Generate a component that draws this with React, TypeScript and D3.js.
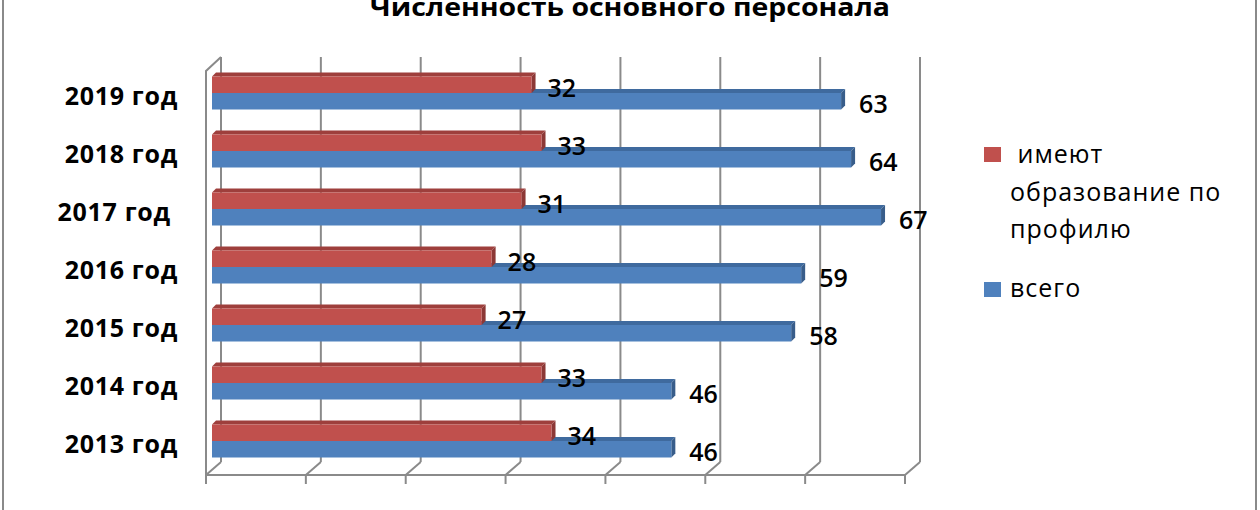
import * as d3 from "d3";

const categories = ["2013 год", "2014 год", "2015 год", "2016 год", "2017 год ", "2018 год", "2019 год"];
const profileValues = [34, 33, 27, 28, 31, 33, 32];
const totalValues = [46, 46, 58, 59, 67, 64, 63];
const tickValues = [0, 10, 20, 30, 40, 50, 60, 70];

const seriesNames = [" имеют\nобразование по\nпрофилю", "всего"];
const RED = "#C0504D";
const BLUE = "#4F81BD";

const W = 1260;
const H = 510;
const GRID = "#8a8a8a";
const FONT = "'Open Sans', 'DejaVu Sans', sans-serif";

// front plane -> back wall offset
const DX = 15;
const DY = -13;
// bars sit a bit behind the front plane
const BAR_DX = 6;
const BAR_H = 16.5;
const D3D = 4; // depth of bar top / side face

const x = d3.scaleLinear().domain([0, 70]).range([206, 905]);
const y = d3.scaleBand<string>().domain([...categories].reverse()).range([64, 470]);

const floorY = 475;
const wallTop = 57;

function Bar3D({ v, top, color, topColor, sideColor }: { v: number; top: number; color: string; topColor: string; sideColor: string }) {
  const x0 = x(0) + BAR_DX;
  const x1 = x(v) + BAR_DX;
  const y0 = top;
  const y1 = top + BAR_H;
  const topFace = `M${x0},${y0}L${x1},${y0}L${x1 + D3D},${y0 - D3D}L${x0 + D3D},${y0 - D3D}Z`;
  const side = `M${x1},${y0}L${x1 + D3D},${y0 - D3D}L${x1 + D3D},${y1 - D3D}L${x1},${y1}Z`;
  return (
    <g>
      <path d={topFace} fill={topColor} />
      <path d={side} fill={sideColor} />
      <rect x={x0} y={y0} width={x1 - x0} height={BAR_H} fill={color} />
    </g>
  );
}

export default function App() {
  const rows = categories.map((c, i) => ({ c, p: profileValues[i], t: totalValues[i] }));
  const ordered = [...rows].reverse(); // top to bottom
  const legendLines = seriesNames[0].split("\n");

  return (
    <svg width={W} height={H} style={{ position: "absolute", left: 0, top: 0, background: "#fff" }} fontFamily={FONT}>
      <rect x={3} y={-10} width={1253} height={540} fill="#fff" stroke={GRID} strokeWidth={2} />

      <text x={630} y={16} textAnchor="middle" fontWeight="bold" fontSize={25} textLength={520} lengthAdjust="spacingAndGlyphs" fill="#000">
        Численность основного персонала
      </text>

      {/* walls and grid */}
      <g stroke={GRID} strokeWidth={2} fill="none">
        {tickValues.map(v => (
          <g key={v}>
            <line x1={x(v) + DX} x2={x(v) + DX} y1={wallTop} y2={floorY + DY} />
            <line x1={x(v)} y1={floorY} x2={x(v) + DX} y2={floorY + DY} />
            <line x1={x(v)} x2={x(v)} y1={floorY} y2={floorY + 9} />
          </g>
        ))}
        <line x1={x(0)} x2={x(70)} y1={floorY} y2={floorY} />
        <path d={`M${x(0)},${floorY}L${x(0)},${wallTop - DY + 1}L${x(0) + DX},${wallTop}`} />
      </g>

      {/* bars */}
      {ordered.map(r => {
        const c = (y(r.c) ?? 0) + y.bandwidth() / 2;
        return (
          <g key={r.c}>
            <Bar3D v={r.t} top={c} color={BLUE} topColor="#3F6A9E" sideColor="#385D8A" />
            <Bar3D v={r.p} top={c - BAR_H} color={RED} topColor="#9E3F3C" sideColor="#8C3836" />
          </g>
        );
      })}

      {/* category labels */}
      {ordered.map(r => {
        const c = (y(r.c) ?? 0) + y.bandwidth() / 2;
        return (
          <text key={r.c} x={178} y={c + 12} textAnchor="end" fontWeight="bold" fontSize={25} letterSpacing={0.7} fill="#000" style={{ whiteSpace: "pre" }}>
            {r.c}
          </text>
        );
      })}

      {/* value labels */}
      {ordered.map(r => {
        const c = (y(r.c) ?? 0) + y.bandwidth() / 2;
        return (
          <g key={r.c} fontSize={25} fontWeight={600} fill="#000">
            <text x={x(r.p) + BAR_DX + 16} y={c - BAR_H / 2 + 2} dominantBaseline="central">{r.p}</text>
            <text x={x(r.t) + BAR_DX + 18} y={c + BAR_H / 2 + 2} dominantBaseline="central">{r.t}</text>
          </g>
        );
      })}

      {/* legend */}
      <g fontSize={25} letterSpacing={1} fill="#000">
        <rect x={984} y={147} width={17} height={15} fill={RED} />
        {legendLines.map((l, i) => (
          <text key={i} x={1010} y={163 + i * 37.5} style={{ whiteSpace: "pre" }}>{l}</text>
        ))}
        <rect x={984} y={282} width={17} height={15} fill={BLUE} />
        <text x={1010} y={297}>{seriesNames[1]}</text>
      </g>
    </svg>
  );
}
